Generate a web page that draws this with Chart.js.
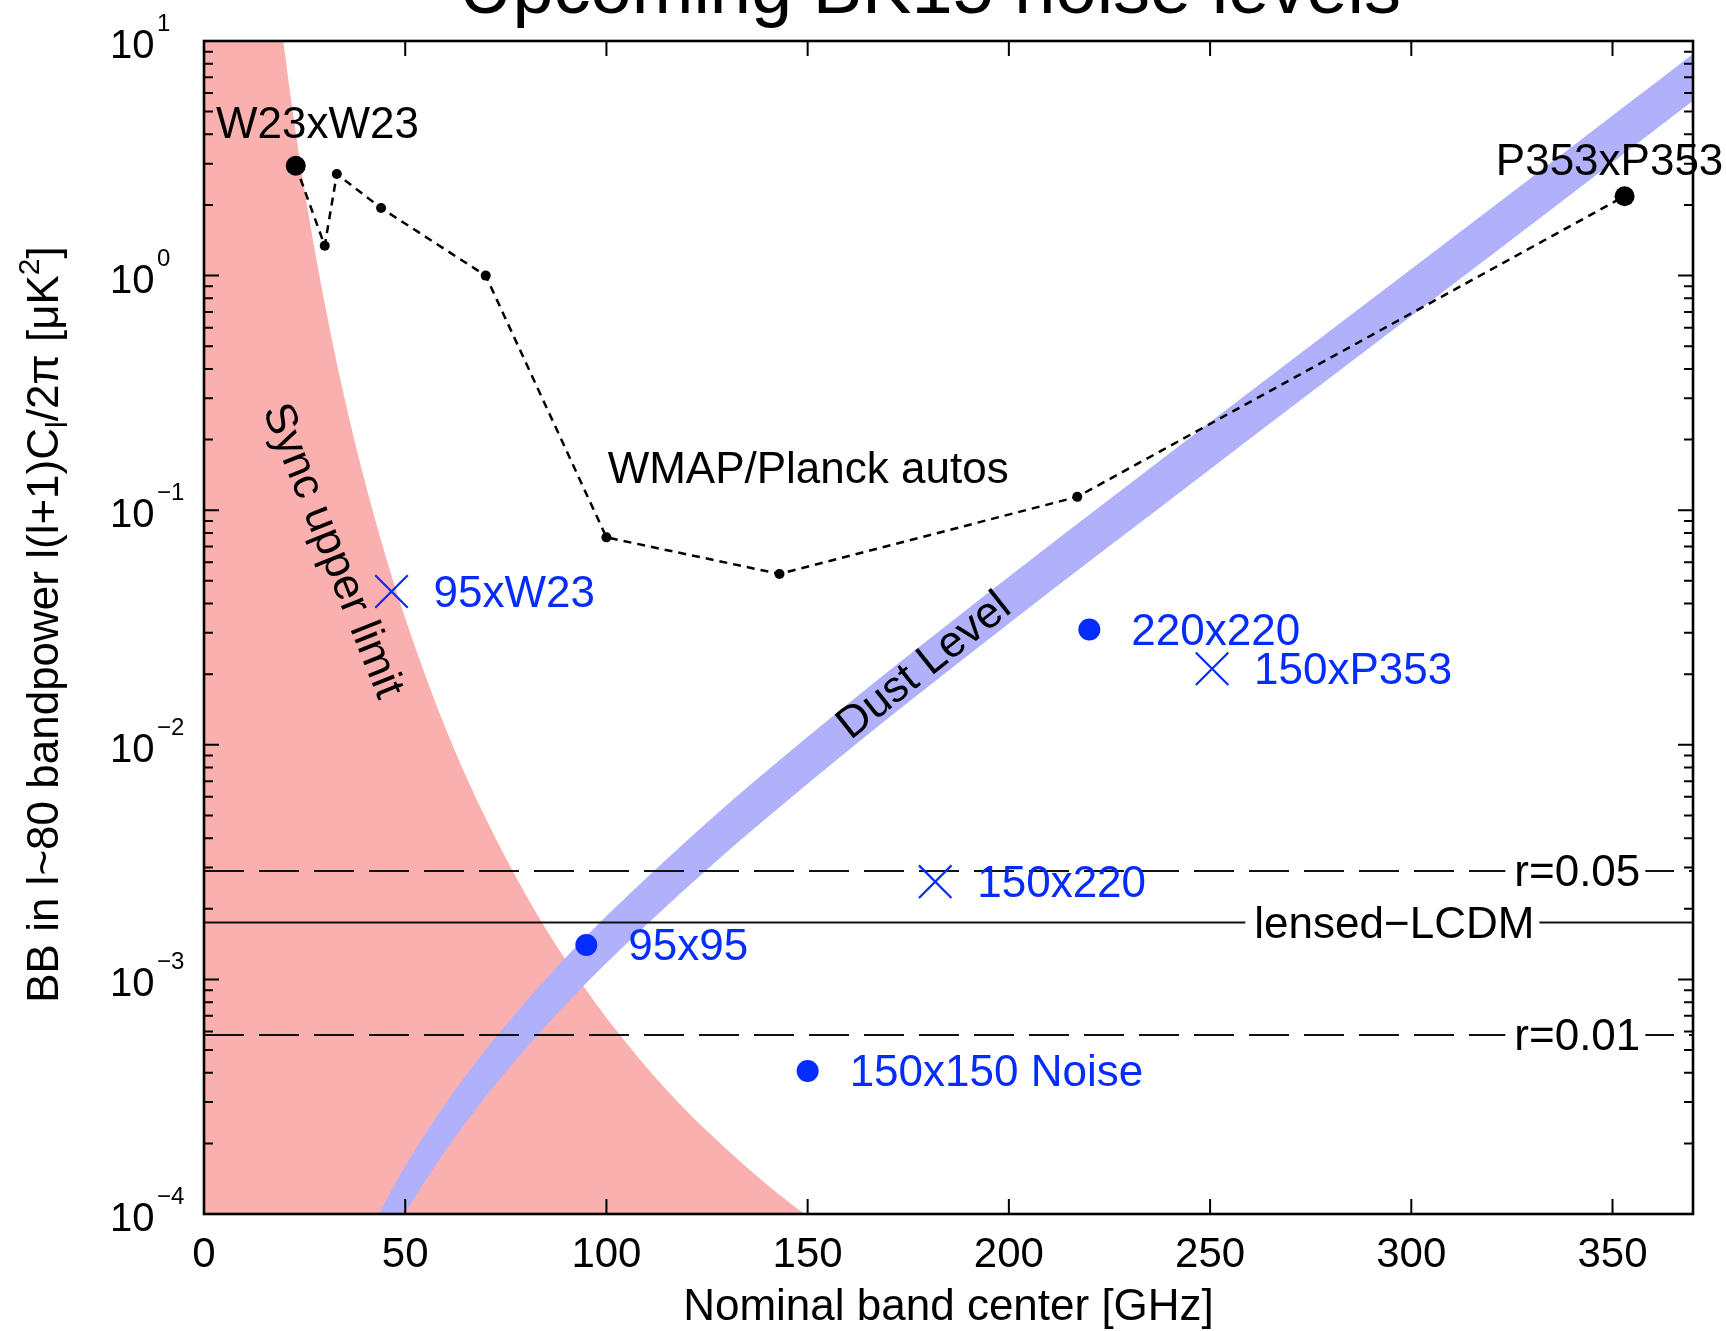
<!DOCTYPE html>
<html>
<head>
<meta charset="utf-8">
<script src="https://cdn.jsdelivr.net/npm/chart.js@4.4.1/dist/chart.umd.min.js"></script>
<style>
html,body{margin:0;padding:0;background:#fff;overflow:hidden}
#wrap{width:1726px;height:1331px;position:relative}
canvas{display:block}
</style>
</head>
<body>
<div id="wrap"><canvas id="c" width="1726" height="1331"></canvas></div>
<script>
// ---------------- data ----------------
const titleText = 'Upcoming BK15 noise levels';
const xTitle = 'Nominal band center [GHz]';
const xTicks = [0, 50, 100, 150, 200, 250, 300, 350];
const yDecades = [-4, -3, -2, -1, 0, 1];

// synchrotron upper-limit envelope (GHz, uK^2)
const syncFreq  = [0, 18, 19.7, 22, 25, 28, 32, 36, 40, 45, 50, 60, 70, 80, 90, 100, 115, 130, 149.3, 165];
const syncLimit = [100, 17.5, 10, 5.07, 2.31, 1.153, 0.5105, 0.2495, 0.1318, 0.0649, 0.0346, 0.0118,
                   4.86e-3, 2.29e-3, 1.20e-3, 6.86e-4, 3.37e-4, 1.88e-4, 1.0e-4, 6.95e-5];

// dust level band: upper and lower edges (GHz, uK^2)
const dustFreq = [40, 45, 50, 60, 70, 80, 90, 100, 125, 150, 175, 200, 225, 250, 275, 300, 325, 353, 370];
const dustHigh = [7.71e-5, 1.122e-4, 1.603e-4, 2.951e-4, 5.02e-4, 8.05e-4, 1.245e-3, 1.862e-3, 4.67e-3,
                  1.081e-2, 2.404e-2, 5.21e-2, 0.1114, 0.2371, 0.5035, 1.067, 2.259, 5.27, 8.81];
const dustLow  = [4.86e-5, 7.08e-5, 1.012e-4, 1.862e-4, 3.17e-4, 5.08e-4, 7.85e-4, 1.175e-3, 2.944e-3,
                  6.82e-3, 1.517e-2, 3.29e-2, 7.03e-2, 0.1496, 0.3177, 0.673, 1.426, 3.327, 5.56];

// WMAP / Planck auto spectra
const autoFreq  = [22.8, 30, 33, 44, 70, 100, 143, 217, 353];
const autoBB    = [2.94, 1.34, 2.71, 1.94, 1.0, 0.0766, 0.0535, 0.114, 2.18];
const autoNames = ['W23xW23', '', '', '', '', '', '', '', 'P353xP353'];

// upcoming BK auto spectra (dots) and cross spectra (crosses)
const dotNames  = ['220x220', '95x95', '150x150 Noise'];
const dotFreq   = [220, 95, 150];
const dotBB     = [0.0310, 0.001402, 0.000407];
const crossNames = ['95xW23', '150xP353', '150x220'];
const crossFreq  = [46.6, 250.5, 181.7];
const crossBB    = [0.045, 0.0211, 0.00261];

// reference levels
const refNames = ['r=0.05', 'lensed\u2212LCDM', 'r=0.01'];
const refBB    = [0.00290, 0.00175, 0.000580];
const refDashed = [true, false, true];

// ---------------- styling ----------------
const FONT = '"Liberation Sans", Arial, Helvetica, sans-serif';
const PINK = 'rgb(250,176,175)';
const LAV  = 'rgb(176,177,250)';
const BLUE = 'rgb(4,44,255)';
const X_MIN = 0, X_MAX = 370, Y_MIN = 1e-4, Y_MAX = 10;

const pts = (xs, ys) => xs.map((v, i) => ({x: v, y: ys[i]}));

const datasets = [
  {label: 'Sync upper limit', type: 'line', data: pts(syncFreq, syncLimit), fill: 'start',
   backgroundColor: PINK, borderColor: 'rgba(0,0,0,0)', borderWidth: 0, pointRadius: 0,
   cubicInterpolationMode: 'monotone', order: 10},
  {label: 'Dust high', type: 'line', data: pts(dustFreq, dustHigh), fill: '+1',
   backgroundColor: LAV, borderColor: 'rgba(0,0,0,0)', borderWidth: 0, pointRadius: 0,
   cubicInterpolationMode: 'monotone', order: 9},
  {label: 'Dust low', type: 'line', data: pts(dustFreq, dustLow), fill: false,
   borderColor: 'rgba(0,0,0,0)', borderWidth: 0, pointRadius: 0,
   cubicInterpolationMode: 'monotone', order: 9}
];
refBB.forEach((v, i) => datasets.push({
  label: refNames[i], type: 'line', data: [{x: X_MIN, y: v}, {x: X_MAX, y: v}], fill: false,
  borderColor: '#111', borderWidth: 2, borderDash: refDashed[i] ? [40, 15] : [],
  pointRadius: 0, order: 6
}));
datasets.push({
  label: 'WMAP/Planck autos', type: 'line', data: pts(autoFreq, autoBB), fill: false,
  borderColor: '#000', borderWidth: 2.5, borderDash: [8, 6], tension: 0,
  pointRadius: autoNames.map(n => n ? 10 : 5), pointBackgroundColor: '#000',
  pointBorderWidth: 0, pointStyle: 'circle', order: 4
});
datasets.push({
  label: 'BK autos', type: 'scatter', data: pts(dotFreq, dotBB), showLine: false,
  pointStyle: 'circle', pointRadius: 11, pointBackgroundColor: BLUE, pointBorderWidth: 0, order: 2
});
datasets.push({
  label: 'BK crosses', type: 'scatter', data: pts(crossFreq, crossBB), showLine: false,
  pointStyle: 'crossRot', pointRadius: 23, pointBorderColor: BLUE, pointBorderWidth: 2.2, order: 2
});

// text annotations anchored in data coordinates
const blackLabels = [
  {text: 'W23xW23', x: 3.0, y: 3.86},
  {text: 'P353xP353', x: 321, y: 2.685},
  {text: 'WMAP/Planck autos', x: 100.3, y: 0.1303}
];
const refLabelFreq = [325.6, 261, 325.6];

function richText(ctx, segs, x0, y0) {
  let total = 0;
  segs.forEach(s => { ctx.font = s.size + 'px ' + FONT; s.w = ctx.measureText(s.t).width; total += s.w; });
  let cx = x0 - total / 2;
  segs.forEach(s => { ctx.font = s.size + 'px ' + FONT; ctx.fillText(s.t, cx, y0 + s.dy); cx += s.w; });
}

const decor = {
  id: 'decor',
  beforeDraw(chart) {
    const ctx = chart.ctx;
    ctx.save(); ctx.fillStyle = '#fff'; ctx.fillRect(0, 0, chart.width, chart.height); ctx.restore();
  },
  afterDatasetsDraw(chart) {
    const {ctx, chartArea: a, scales: {x, y}} = chart;
    ctx.save();
    ctx.textBaseline = 'alphabetic';

    // reference line labels (line interrupted behind text)
    ctx.font = '44px ' + FONT;
    refNames.forEach((t, i) => {
      const py = y.getPixelForValue(refBB[i]);
      const px = x.getPixelForValue(refLabelFreq[i]);
      const w = ctx.measureText(t).width;
      ctx.fillStyle = '#fff';
      ctx.fillRect(px - 9, py - 4, w + 14, 8);
      ctx.fillStyle = '#000';
      ctx.textAlign = 'left';
      ctx.fillText(t, px, py + 15.5);
    });

    // black labels
    ctx.fillStyle = '#000';
    ctx.textAlign = 'left';
    blackLabels.forEach(l => ctx.fillText(l.text, x.getPixelForValue(l.x), y.getPixelForValue(l.y)));

    // blue point labels
    ctx.fillStyle = BLUE;
    dotNames.forEach((t, i) => ctx.fillText(t, x.getPixelForValue(dotFreq[i]) + 42, y.getPixelForValue(dotBB[i]) + 15.5));
    crossNames.forEach((t, i) => ctx.fillText(t, x.getPixelForValue(crossFreq[i]) + 42, y.getPixelForValue(crossBB[i]) + 15.5));

    // rotated region labels
    ctx.fillStyle = '#000';
    ctx.textAlign = 'center';
    ctx.textBaseline = 'middle';
    ctx.save();
    ctx.translate(x.getPixelForValue(31.8), y.getPixelForValue(0.067));
    ctx.rotate(68.2 * Math.PI / 180);
    ctx.fillText('Sync upper limit', 0, 0);
    ctx.restore();
    ctx.save();
    ctx.translate(x.getPixelForValue(179), y.getPixelForValue(0.0216));
    ctx.rotate(-38.5 * Math.PI / 180);
    ctx.fillText('Dust Level', 0, 0);
    ctx.restore();

    // axes box
    ctx.strokeStyle = '#000';
    ctx.lineWidth = 2.6;
    ctx.strokeRect(a.left, a.top, a.right - a.left, a.bottom - a.top);

    // inward ticks
    ctx.lineWidth = 2;
    ctx.beginPath();
    xTicks.forEach(v => {
      const px = x.getPixelForValue(v);
      ctx.moveTo(px, a.bottom); ctx.lineTo(px, a.bottom - 15);
      ctx.moveTo(px, a.top); ctx.lineTo(px, a.top + 15);
    });
    yDecades.forEach(d => {
      for (let m = 1; m <= 9; m++) {
        if (d === yDecades[yDecades.length - 1] && m > 1) break;
        const py = y.getPixelForValue(m * Math.pow(10, d));
        const len = m === 1 ? 15 : 9;
        ctx.moveTo(a.left, py); ctx.lineTo(a.left + len, py);
        ctx.moveTo(a.right, py); ctx.lineTo(a.right - len, py);
      }
    });
    ctx.stroke();

    // y tick labels 10^n
    ctx.fillStyle = '#000';
    ctx.textAlign = 'left';
    ctx.textBaseline = 'alphabetic';
    yDecades.forEach(d => {
      const py = y.getPixelForValue(Math.pow(10, d));
      ctx.font = '40px ' + FONT;
      ctx.fillText('10', a.left - 94, py + 17);
      ctx.font = '24px ' + FONT;
      ctx.fillText(d < 0 ? '\u2212' + (-d) : String(d), a.left - 47, py - 10);
    });

    // x axis title
    ctx.font = '44px ' + FONT;
    ctx.textAlign = 'center';
    ctx.fillText(xTitle, (a.left + a.right) / 2, 1320);

    // y axis title (rotated, with sub/superscripts)
    ctx.save();
    ctx.translate(58, (a.top + a.bottom) / 2 - 3);
    ctx.rotate(-Math.PI / 2);
    ctx.textAlign = 'left';
    richText(ctx, [
      {t: 'BB in l~80 bandpower l(l+1)C', size: 44, dy: 0},
      {t: 'l', size: 30, dy: 9},
      {t: '/2\u03c0 [\u03bcK', size: 44, dy: 0},
      {t: '2', size: 30, dy: -19},
      {t: ']', size: 44, dy: 0}
    ], 0, 0);
    ctx.restore();

    // title (cut by the top edge as in the reference)
    ctx.font = '74px ' + FONT;
    ctx.textAlign = 'center';
    ctx.fillText(titleText, 930, 13);

    ctx.restore();
  }
};

new Chart(document.getElementById('c'), {
  type: 'scatter',
  data: {datasets},
  options: {
    responsive: false,
    animation: false,
    devicePixelRatio: 1,
    layout: {padding: {top: 41, right: 33, left: 0, bottom: 0}},
    plugins: {legend: {display: false}, tooltip: {enabled: false}, title: {display: false}},
    scales: {
      x: {
        type: 'linear', min: X_MIN, max: X_MAX, position: 'bottom',
        grid: {display: false, drawTicks: false}, border: {display: false},
        ticks: {
          stepSize: 50, includeBounds: false, autoSkip: false, maxRotation: 0, minRotation: 0,
          padding: 16, color: '#000', font: {family: FONT, size: 42},
          callback: v => xTicks.includes(v) ? String(v) : ''
        },
        afterFit(s) { s.height = 117; }
      },
      y: {
        type: 'logarithmic', min: Y_MIN, max: Y_MAX, position: 'left',
        grid: {display: false, drawTicks: false}, border: {display: false},
        ticks: {display: false},
        afterFit(s) { s.width = 204; }
      }
    }
  },
  plugins: [decor]
});
</script>
</body>
</html>
